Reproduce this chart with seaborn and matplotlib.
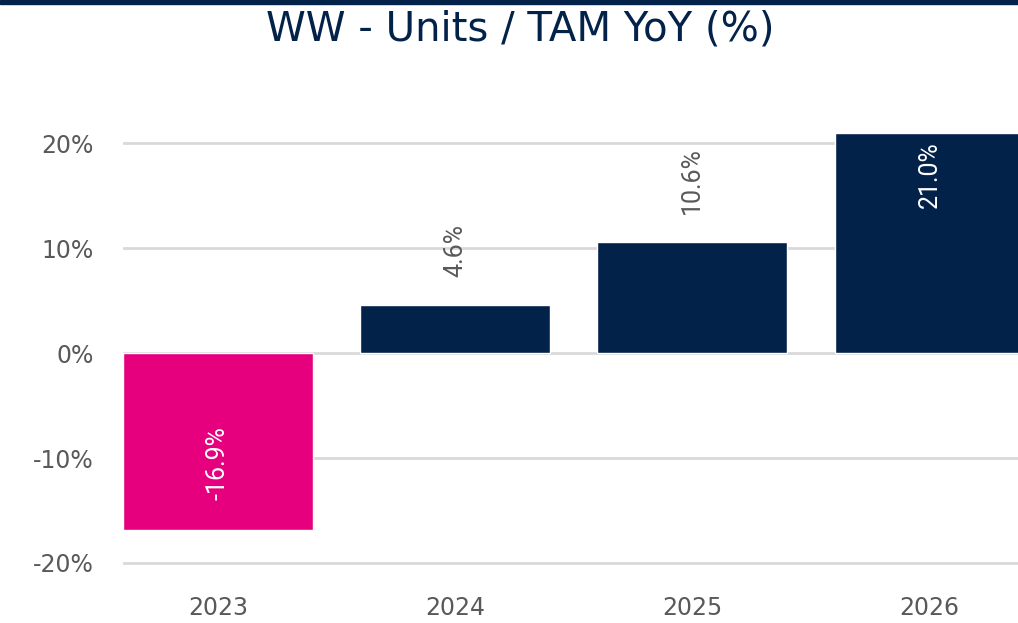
import matplotlib
matplotlib.use("Agg")
import matplotlib.pyplot as plt
import seaborn as sns
import pandas as pd
from matplotlib.patches import Rectangle

years = ["2023", "2024", "2025", "2026"]
yoy = [-16.9, 4.6, 10.6, 21.0]
bar_colors = ["#E6007E", "#03224A", "#03224A", "#03224A"]
y_ticks = [-20, -10, 0, 10, 20]

NAVY = "#03224A"
GREY = "#595959"

sns.set_theme(style="white")
plt.rcParams["font.family"] = ["DejaVu Sans"]

df = pd.DataFrame({"year": years, "yoy": yoy})

fig = plt.figure(figsize=(10.18, 6.23), dpi=100)
ax = fig.add_axes([0.1208, 0.0795, 0.8792, 0.7245])

sns.barplot(data=df, x="year", y="yoy", hue="year", palette=bar_colors,
            width=0.8, legend=False, ax=ax, zorder=3, saturation=1)

ax.set_xlim(-0.4, 3.373)
ax.set_ylim(-21, 22)
ax.set_yticks(y_ticks)
ax.set_yticklabels([f"{t}%" for t in y_ticks])
ax.yaxis.grid(True, color="#d9d9d9", linewidth=2, zorder=0)
ax.set_axisbelow(True)
for s in ax.spines.values():
    s.set_visible(False)
ax.set_xlabel("")
ax.set_ylabel("")
ax.tick_params(axis="y", length=0, pad=21, labelsize=17, labelcolor=GREY)
ax.tick_params(axis="x", length=0, pad=16, labelsize=17, labelcolor=GREY)

# value labels, rotated like the original
lbl_font = ["Roboto", "DejaVu Sans"]
ymax = ax.get_ylim()[1]
for i, v in enumerate(yoy):
    txt = f"{v:.1f}%"
    if v < 0:
        ax.annotate(txt, (i, v), xytext=(0, 22), textcoords="offset points",
                    rotation=90, ha="center", va="bottom", color="white",
                    fontsize=18, family=lbl_font)
    elif v + 6 > ymax:
        ax.annotate(txt, (i, v), xytext=(0, -6), textcoords="offset points",
                    rotation=90, ha="center", va="top", color="white",
                    fontsize=18, family=lbl_font)
    else:
        ax.annotate(txt, (i, v), xytext=(0, 20), textcoords="offset points",
                    rotation=90, ha="center", va="bottom", color=GREY,
                    fontsize=18, family=lbl_font)

fig.text(0.511, 0.953, "WW - Units / TAM YoY (%)", ha="center", va="center",
         fontsize=29, color=NAVY, fontweight="medium")

fig.add_artist(Rectangle((0, 0.993), 1, 0.007, transform=fig.transFigure,
                         color=NAVY, clip_on=False))

fig.savefig("out.png", dpi=100)
